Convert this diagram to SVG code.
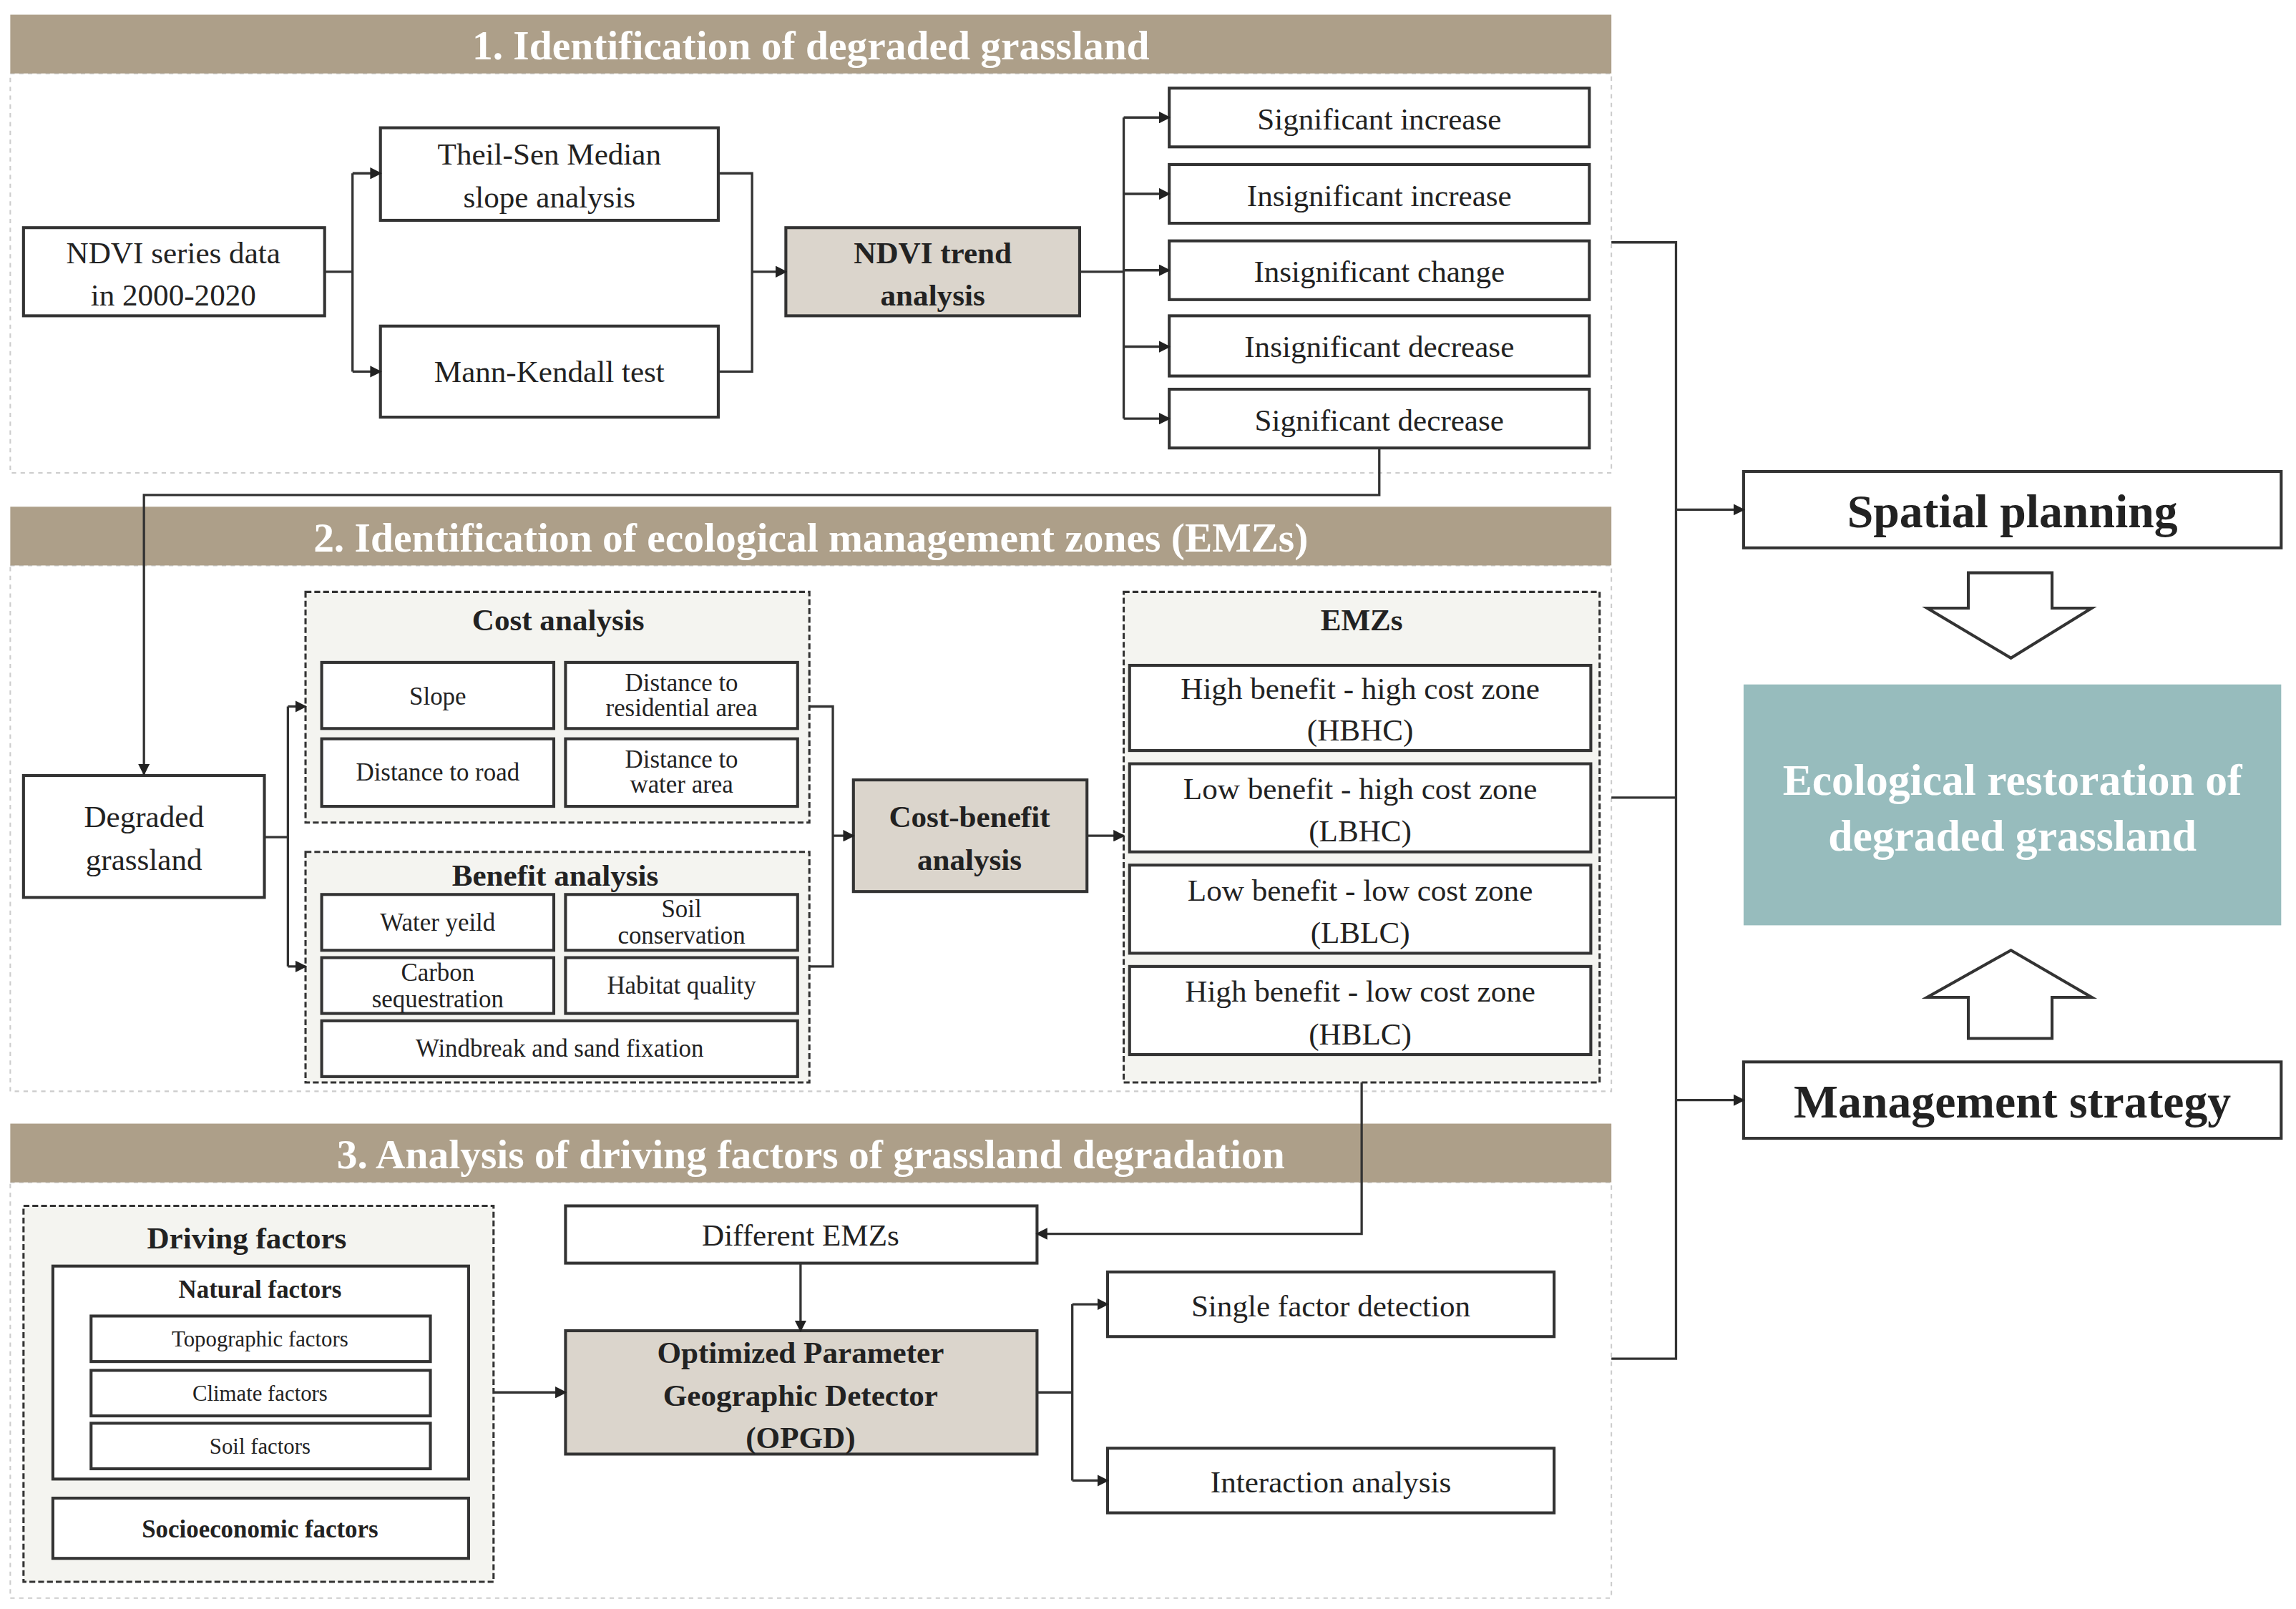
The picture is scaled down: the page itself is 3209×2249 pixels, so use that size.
<svg xmlns="http://www.w3.org/2000/svg" width="3209" height="2249" viewBox="0 0 3209 2249">
<style>
text{font-family:"Liberation Serif","Times New Roman",serif;fill:#222;text-anchor:middle;dominant-baseline:central}
.b{fill:#fff;stroke:#333;stroke-width:2}
.g{fill:#dbd5cc;stroke:#333;stroke-width:2}
.dash{fill:#f4f4f0;stroke:#333;stroke-width:1.5;stroke-dasharray:4 2}
.sec{fill:none;stroke:#ccc;stroke-width:1;stroke-dasharray:3 3}
.hd{fill:#ad9f89}
.ht{fill:#fff;font-weight:bold;font-size:28px}
.t{font-size:21px}
.s{font-size:17px}
.xs{font-size:15px}
.bd{font-weight:bold}
.c{fill:none;stroke:#333;stroke-width:1.6}
</style>
<defs><marker id="a" markerWidth="8" markerHeight="8" refX="7" refY="4" orient="auto" markerUnits="userSpaceOnUse"><path d="M0,0L8,4L0,8z" fill="#222"/></marker></defs>
<rect width="3209" height="2249" fill="#fff"/>
<g transform="scale(2.053)">
<g id="sections">
<rect class="sec" x="7" y="50" width="1090" height="272"/>
<rect class="hd" x="7" y="10" width="1090" height="40"/>
<text class="ht" x="552" y="31">1. Identification of degraded grassland</text>
<rect class="sec" x="7" y="385" width="1090" height="358"/>
<rect class="hd" x="7" y="345" width="1090" height="40"/>
<text class="ht" x="552" y="366">2. Identification of ecological management zones (EMZs)</text>
<rect class="sec" x="7" y="805" width="1090" height="283"/>
<rect class="hd" x="7" y="765" width="1090" height="40"/>
<text class="ht" x="552" y="786">3. Analysis of driving factors of grassland degradation</text>
</g>
<g id="n-ndvi"><rect class="b" x="16" y="155" width="205" height="60"/><text class="t" x="118" y="172">NDVI series data</text><text class="t" x="118" y="201">in 2000-2020</text></g>
<g id="n-theil"><rect class="b" x="259" y="87" width="230" height="63"/><text class="t" x="374" y="105">Theil-Sen Median</text><text class="t" x="374" y="134">slope analysis</text></g>
<g id="n-mk"><rect class="b" x="259" y="222" width="230" height="62"/><text class="t" x="374" y="253">Mann-Kendall test</text></g>
<g id="n-trend"><rect class="g" x="535" y="155" width="200" height="60"/><text class="t bd" x="635" y="172">NDVI trend</text><text class="t bd" x="635" y="201">analysis</text></g>
<g id="n-r1"><rect class="b" x="796" y="60" width="286" height="40"/><text class="t" x="939" y="81">Significant increase</text></g>
<g id="n-r2"><rect class="b" x="796" y="112" width="286" height="40"/><text class="t" x="939" y="133">Insignificant increase</text></g>
<g id="n-r3"><rect class="b" x="796" y="164" width="286" height="40"/><text class="t" x="939" y="185">Insignificant change</text></g>
<g id="n-r4"><rect class="b" x="796" y="215" width="286" height="41"/><text class="t" x="939" y="236">Insignificant decrease</text></g>
<g id="n-r5"><rect class="b" x="796" y="265" width="286" height="40"/><text class="t" x="939" y="286">Significant decrease</text></g>

<g id="n-degraded"><rect class="b" x="16" y="528" width="164" height="83"/><text class="t" x="98" y="556">Degraded</text><text class="t" x="98" y="585">grassland</text></g>
<g id="n-cost"><rect class="dash" x="208" y="403" width="343" height="157"/><text class="t bd" x="380" y="422">Cost analysis</text>
<rect class="b" x="219" y="451" width="158" height="45"/><text class="s" x="298" y="474">Slope</text>
<rect class="b" x="385" y="451" width="158" height="45"/><text class="s" x="464" y="465">Distance to</text><text class="s" x="464" y="482">residential area</text>
<rect class="b" x="219" y="503" width="158" height="46"/><text class="s" x="298" y="526">Distance to road</text>
<rect class="b" x="385" y="503" width="158" height="46"/><text class="s" x="464" y="517">Distance to</text><text class="s" x="464" y="534">water area</text></g>
<g id="n-benefit"><rect class="dash" x="208" y="580" width="343" height="157"/><text class="t bd" x="378" y="596">Benefit analysis</text>
<rect class="b" x="219" y="609" width="158" height="38"/><text class="s" x="298" y="628">Water yeild</text>
<rect class="b" x="385" y="609" width="158" height="38"/><text class="s" x="464" y="619">Soil</text><text class="s" x="464" y="637">conservation</text>
<rect class="b" x="219" y="652" width="158" height="38"/><text class="s" x="298" y="662">Carbon</text><text class="s" x="298" y="680">sequestration</text>
<rect class="b" x="385" y="652" width="158" height="38"/><text class="s" x="464" y="671">Habitat quality</text>
<rect class="b" x="219" y="695" width="324" height="38"/><text class="s" x="381" y="714">Windbreak and sand fixation</text></g>
<g id="n-cb"><rect class="g" x="581" y="531" width="159" height="76"/><text class="t bd" x="660" y="556">Cost-benefit</text><text class="t bd" x="660" y="585">analysis</text></g>
<g id="n-emzs"><rect class="dash" x="765" y="403" width="324" height="334"/><text class="t bd" x="927" y="422">EMZs</text>
<rect class="b" x="769" y="453" width="314" height="58"/><text class="t" x="926" y="469">High benefit - high cost zone</text><text class="t" x="926" y="497">(HBHC)</text>
<rect class="b" x="769" y="520" width="314" height="60"/><text class="t" x="926" y="537">Low benefit - high cost zone</text><text class="t" x="926" y="566">(LBHC)</text>
<rect class="b" x="769" y="589" width="314" height="60"/><text class="t" x="926" y="606">Low benefit - low cost zone</text><text class="t" x="926" y="635">(LBLC)</text>
<rect class="b" x="769" y="658" width="314" height="60"/><text class="t" x="926" y="675">High benefit - low cost zone</text><text class="t" x="926" y="704">(HBLC)</text></g>

<g id="n-driving"><rect class="dash" x="16" y="821" width="320" height="256"/><text class="t bd" x="168" y="843">Driving factors</text>
<rect class="b" x="36" y="862" width="283" height="145"/><text class="s bd" x="177" y="878">Natural factors</text>
<rect class="b" x="62" y="896" width="231" height="31"/><text class="xs" x="177" y="912">Topographic factors</text>
<rect class="b" x="62" y="933" width="231" height="31"/><text class="xs" x="177" y="949">Climate factors</text>
<rect class="b" x="62" y="969" width="231" height="31"/><text class="xs" x="177" y="985">Soil factors</text>
<rect class="b" x="36" y="1020" width="283" height="41"/><text class="s bd" x="177" y="1041">Socioeconomic factors</text></g>
<g id="n-diff"><rect class="b" x="385" y="821" width="321" height="39"/><text class="t" x="545" y="841">Different EMZs</text></g>
<g id="n-opgd"><rect class="g" x="385" y="906" width="321" height="84"/><text class="t bd" x="545" y="921">Optimized Parameter</text><text class="t bd" x="545" y="950">Geographic Detector</text><text class="t bd" x="545" y="979">(OPGD)</text></g>
<g id="n-single"><rect class="b" x="754" y="866" width="304" height="44"/><text class="t" x="906" y="889">Single factor detection</text></g>
<g id="n-inter"><rect class="b" x="754" y="986" width="304" height="44"/><text class="t" x="906" y="1009">Interaction analysis</text></g>

<g id="n-spatial"><rect class="b" x="1187" y="321" width="366" height="52"/><text x="1370" y="348" style="font-size:32px;font-weight:bold">Spatial planning</text></g>
<g id="n-eco"><rect x="1187" y="466" width="366" height="164" fill="#97bcbd"/><text x="1370" y="531" style="font-size:30px;font-weight:bold;fill:#fff">Ecological restoration of</text><text x="1370" y="569" style="font-size:30px;font-weight:bold;fill:#fff">degraded grassland</text></g>
<g id="n-mgmt"><rect class="b" x="1187" y="723" width="366" height="52"/><text x="1370" y="750" style="font-size:32px;font-weight:bold">Management strategy</text></g>
<g id="n-arrows">
<path d="M1340,390H1397V414H1424L1369,448L1312,414H1340Z" fill="#fff" stroke="#333" stroke-width="2"/>
<path d="M1369,647L1424,679H1397V707H1340V679H1312Z" fill="#fff" stroke="#333" stroke-width="2"/>
</g>

<g id="connectors" class="c">
<path d="M221,185H240M240,118V253"/><path d="M240,118H259" marker-end="url(#a)"/><path d="M240,253H259" marker-end="url(#a)"/>
<path d="M489,118H512V253H489M512,185H535" marker-end="url(#a)"/>
<path d="M735,185H765M765,80V285"/>
<path d="M765,80H796" marker-end="url(#a)"/><path d="M765,132H796" marker-end="url(#a)"/><path d="M765,184H796" marker-end="url(#a)"/><path d="M765,236H796" marker-end="url(#a)"/><path d="M765,285H796" marker-end="url(#a)"/>
<path d="M939,305V337H98V527" marker-end="url(#a)"/>
<path d="M180,570H196M196,481V658"/><path d="M196,481H208" marker-end="url(#a)"/><path d="M196,658H208" marker-end="url(#a)"/>
<path d="M551,481H567V658H551M567,569H581" marker-end="url(#a)"/>
<path d="M740,569H765" marker-end="url(#a)"/>
<path d="M927,737V840H706" marker-end="url(#a)"/>
<path d="M545,860V906" marker-end="url(#a)"/>
<path d="M336,948H385" marker-end="url(#a)"/>
<path d="M706,948H730M730,888V1008"/><path d="M730,888H754" marker-end="url(#a)"/><path d="M730,1008H754" marker-end="url(#a)"/>
<path d="M1097,165H1141V925H1097M1097,543H1141"/>
<path d="M1141,347H1187" marker-end="url(#a)"/><path d="M1141,749H1187" marker-end="url(#a)"/>
</g>
</g>
</svg>
